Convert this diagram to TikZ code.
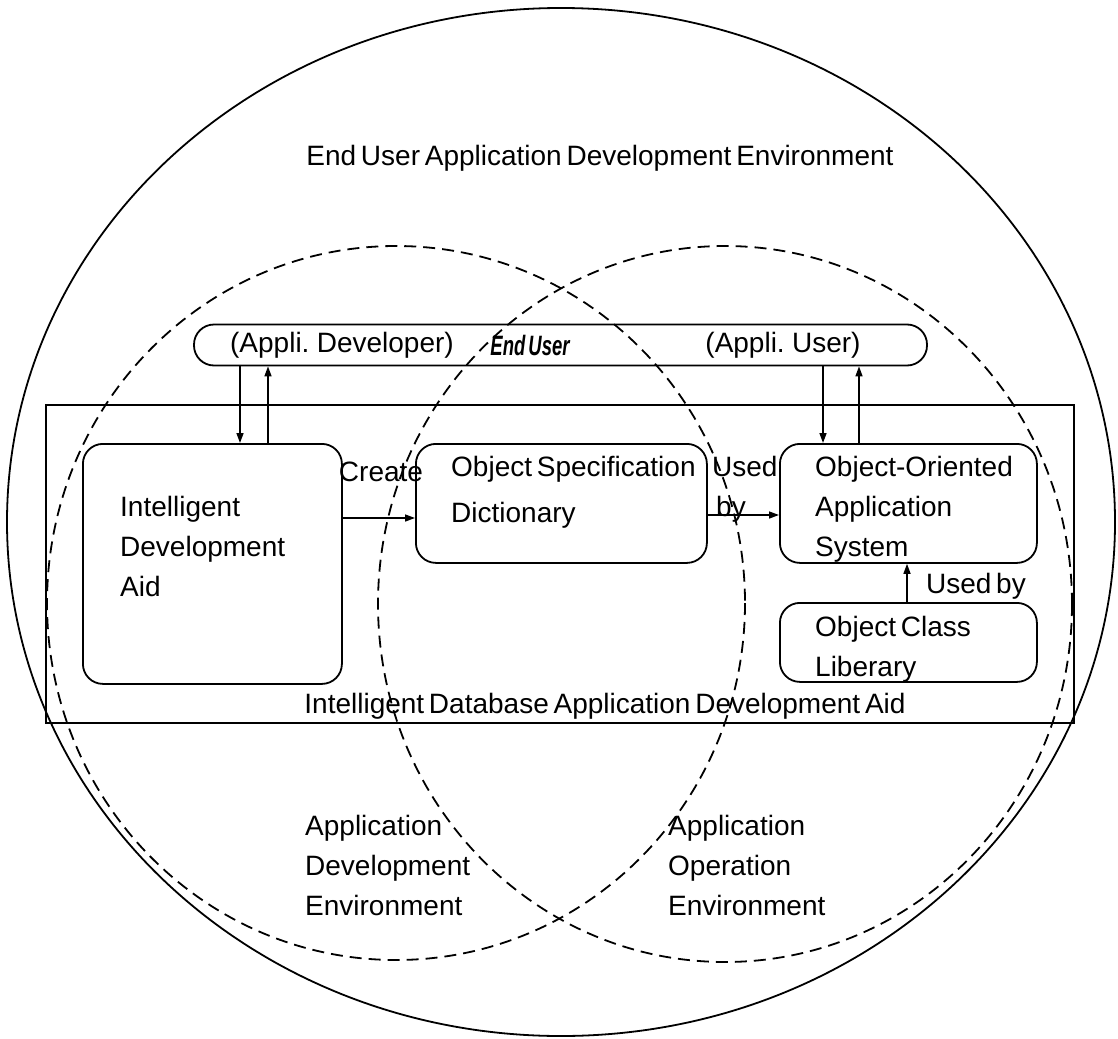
\documentclass[tikz,border=0pt]{standalone}
\usepackage{fontspec}
\usepackage{graphicx}
\setmainfont{Liberation Sans}
\usetikzlibrary{arrows.meta}
\newcommand{\diagfont}[1]{\fontsize{28}{#1}\selectfont\spaceskip=0.17em plus 0.05em minus 0.03em\relax}
\begin{document}
\begin{tikzpicture}[x=1pt,y=-1pt,
  every node/.style={font=\diagfont{40}, inner sep=0pt},
  outline/.style={line width=1.8pt},
  envring/.style={line width=1.8pt, dash pattern=on 12pt off 7pt},
  block/.style={draw, line width=1.8pt, rounded corners=20pt, anchor=north west},
  txt/.style={align=left, anchor=north west},
  arr/.style={line width=1.5pt, -{Triangle[length=10pt,width=7pt]}}
]
\useasboundingbox (0,0) rectangle (1118,1038);

% outer environment and the two overlapping environments
\draw[outline] (561,522) ellipse [x radius=554, y radius=514];
\draw[envring] (396,603) ellipse [x radius=349, y radius=357];
\draw[envring] (725,604) ellipse [x radius=347, y radius=358];

\node (title) at (600,158) {End User Application Development Environment};

% end user bar
\node[draw, line width=1.8pt, rounded corners=20pt, minimum width=733pt, minimum height=41pt] (pill) at (560.5,345) {};
\node (dev) at (342,345) {(Appli. Developer)};
\node (eu) at (530,345) {\scalebox{0.66}[1]{\bfseries\itshape End User}};
\node (usr) at (783,345) {(Appli. User)};

% development aid frame
\node[draw, line width=1.8pt, anchor=north west, minimum width=1028pt, minimum height=318pt] (frame) at (45,404) {};
\node (framelbl) at (605,706) {Intelligent Database Application Development Aid};

% blocks
\node[block, minimum width=259pt, minimum height=240pt] (ida) at (82,443) {};
\node[block, minimum width=291pt, minimum height=119pt] (osd) at (415,443) {};
\node[block, minimum width=257pt, minimum height=119pt] (ooas) at (779,443) {};
\node[block, minimum width=257pt, minimum height=79pt] (ocl) at (779,602) {};

\node[txt] (idat) at (120,496) {Intelligent\\Development\\Aid};
\node[txt, font=\diagfont{46}] (osdt) at (451,456) {Object Specification\\Dictionary};
\node[txt] (ooast) at (815,456) {Object-Oriented\\Application\\System};
\node[txt] (oclt) at (815,616) {Object Class\\Liberary};

% labels
\node (create) at (381,472) {Create};
\node[txt] (usedby1) at (712,456) {Used\\\hspace*{4pt}by};
\node (usedby2) at (976,586) {Used by};

\node[txt] (ade) at (305,815) {Application\\Development\\Environment};
\node[txt] (aoe) at (668,815) {Application\\Operation\\Environment};

% connector positions
\coordinate (xa) at (240,0);
\coordinate (xb) at (268,0);
\coordinate (xc) at (823,0);
\coordinate (xd) at (859,0);
\coordinate (xe) at (907,0);
\coordinate (ya) at (0,518);
\coordinate (yb) at (0,515);

\draw[arr] (pill.south -| xa) -- (ida.north -| xa);
\draw[arr] (ida.north -| xb) -- (pill.south -| xb);
\draw[arr] (pill.south -| xc) -- (ooas.north -| xc);
\draw[arr] (ooas.north -| xd) -- (pill.south -| xd);
\draw[arr] (ida.east |- ya) -- (osd.west |- ya);
\draw[arr] (osd.east |- yb) -- (ooas.west |- yb);
\draw[arr] (ocl.north -| xe) -- (ooas.south -| xe);
\end{tikzpicture}
\end{document}
